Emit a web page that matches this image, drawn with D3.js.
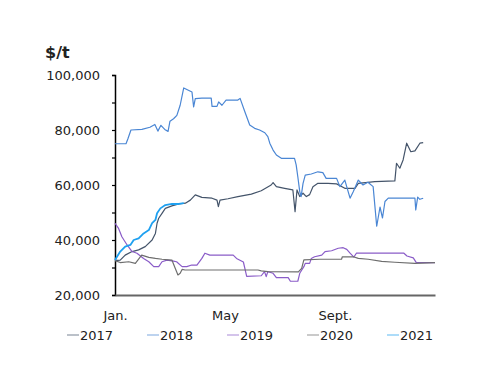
<!DOCTYPE html>
<html>
<head>
<meta charset="utf-8">
<script src="https://cdn.jsdelivr.net/npm/d3@7"></script>
<style>
  html, body { margin: 0; padding: 0; background: #fff; }
  svg { display: block; font-family: "DejaVu Sans", Verdana, sans-serif; }
</style>
</head>
<body>
<div id="chart"></div>
<script>
// x = month of year as a fraction (0 = Jan. 1), y = $/t
const years = ["2017", "2018", "2019", "2020", "2021"];
const colors = ["#44546A", "#4a86d4", "#8a5cc8", "#6e6e6e", "#1ea0f0"];

const s2017 = [[0,32500],[0.19,32700],[0.37,34500],[0.62,35800],[0.86,36400],[1.10,37600],[1.35,40000],[1.47,42400],[1.53,46100],[1.59,47900],[1.71,49700],[1.83,51500],[2.07,52400],[2.32,53100],[2.56,53400],[2.74,54500],[2.92,56400],[3.16,55500],[3.53,55200],[3.71,54500],[3.76,52100],[3.82,54500],[4.11,55000],[4.47,55800],[4.96,56700],[5.32,57900],[5.68,60000],[5.75,60900],[5.87,59400],[6.17,58800],[6.47,58200],[6.55,50300],[6.62,58200],[6.72,55800],[6.84,57000],[6.96,55800],[7.08,56500],[7.20,59400],[7.38,60600],[7.75,60600],[8.06,60400],[8.36,58800],[8.73,58800],[8.85,60600],[9.45,61200],[10.18,61500],[10.24,67900],[10.36,66100],[10.48,69100],[10.61,75200],[10.76,72100],[10.91,72400],[11.09,75200],[11.21,75400]];

const s2018 = [[0,75000],[0.40,75000],[0.47,76800],[0.58,80000],[0.98,80200],[1.27,81000],[1.45,82000],[1.56,79600],[1.67,81700],[1.81,80200],[1.93,79500],[2.00,83200],[2.13,84100],[2.25,85300],[2.37,89000],[2.50,95300],[2.80,93800],[2.86,88400],[2.92,91400],[3.16,91600],[3.50,91600],[3.53,88600],[3.71,88600],[3.77,90200],[3.89,89000],[4.04,90900],[4.47,90900],[4.55,91500],[4.72,86700],[4.90,81800],[5.08,80600],[5.26,80000],[5.45,79000],[5.56,77600],[5.63,75200],[5.75,72700],[5.87,70900],[6.05,69700],[6.53,69700],[6.59,67300],[6.65,63000],[6.72,57600],[6.77,55800],[6.84,60600],[6.92,63600],[7.14,64000],[7.38,64800],[7.56,64500],[7.68,62400],[8.06,62400],[8.18,59400],[8.36,61800],[8.55,55200],[8.67,57600],[8.85,61800],[9.02,60000],[9.20,61000],[9.39,59400],[9.52,45000],[9.64,52000],[9.73,48000],[9.82,54000],[9.94,55200],[10.91,55200],[10.94,50900],[11.01,55600],[11.09,54800],[11.21,55200]];

const s2019 = [[0,46100],[0.13,44200],[0.25,41200],[0.44,38200],[0.62,35800],[0.80,35200],[1.04,33300],[1.23,32100],[1.41,30300],[1.59,30300],[1.71,32100],[1.89,32700],[2.13,32300],[2.24,32100],[2.44,30300],[2.61,30300],[2.79,30900],[2.98,30900],[3.16,33300],[3.27,35200],[3.45,34500],[4.30,34500],[4.42,33300],[4.67,32000],[4.79,26800],[5.32,27000],[5.44,28500],[5.50,26700],[5.56,28500],[5.75,27900],[5.87,26300],[6.30,26300],[6.38,25000],[6.65,25000],[6.72,27900],[6.87,30300],[6.92,31500],[7.08,31500],[7.14,33300],[7.26,33900],[7.52,34500],[7.64,35800],[7.88,36100],[8.12,37000],[8.30,37200],[8.43,36600],[8.55,35200],[8.69,33800],[8.78,35200],[10.51,35200],[10.62,34200],[10.85,33500],[10.96,31800],[11.64,31800]];

const s2020 = [[0,32500],[0.19,31800],[0.50,32100],[0.74,31500],[0.97,34500],[1.23,33700],[1.47,33300],[1.71,33000],[2.07,32700],[2.19,29700],[2.29,27300],[2.37,27900],[2.44,29300],[2.55,29100],[5.20,29100],[5.32,28800],[5.56,28500],[6.67,28400],[6.79,29700],[6.87,32800],[7.45,33000],[8.24,33000],[8.27,33900],[8.67,33900],[8.85,33300],[9.21,33000],[9.70,32200],[10.18,31900],[10.91,31500],[11.64,31800]];

const s2021 = [[0,32700],[0.19,35800],[0.37,37600],[0.56,38200],[0.68,40000],[0.86,40600],[1.04,42400],[1.23,43600],[1.35,46100],[1.47,47300],[1.53,49700],[1.65,51500],[1.83,52700],[2.07,53100],[2.32,53100],[2.50,53400]];

const seriesData = [s2017, s2018, s2019, s2020, s2021];
const yTicks = [20000, 30000, 40000, 50000, 60000, 70000, 80000, 90000, 100000];
const xTicks = [0, 4, 8];
const xTickLabels = ["Jan.", "May", "Sept."];

const width = 500, height = 386;
const margin = { left: 115, right: 65, top: 75, bottom: 91 };

const svg = d3.select("#chart").append("svg")
  .attr("width", width)
  .attr("height", height);

const x = d3.scaleLinear()
  .domain([0, 11.64])
  .range([margin.left, width - margin.right]);

const y = d3.scaleLinear()
  .domain([20000, 100000])
  .range([height - margin.bottom, margin.top]);

// unit label
svg.append("text")
  .attr("x", 45)
  .attr("y", 58)
  .style("font-size", "16px")
  .style("font-weight", "bold")
  .style("fill", "#222")
  .text("$/t");

// y axis: ticks every 10,000, labels every 20,000
const yAxis = svg.append("g")
  .attr("transform", `translate(${margin.left},0)`)
  .call(d3.axisLeft(y)
    .tickValues(yTicks)
    .tickSize(3)
    .tickPadding(12)
    .tickFormat(d => (d % 20000 === 0 ? d3.format(",")(d) : "")));

yAxis.select(".domain").attr("stroke", "#000").attr("stroke-width", 1.5);
yAxis.selectAll(".tick line").attr("stroke", "#000").attr("stroke-width", 1.2);
yAxis.selectAll("text")
  .style("font-size", "13px")
  .style("fill", "#222")
  .style("font-family", "DejaVu Sans, Verdana, sans-serif");

// x axis: labels only
const xAxis = svg.append("g")
  .attr("transform", `translate(0,${height - margin.bottom})`)
  .call(d3.axisBottom(x)
    .tickValues(xTicks)
    .tickSize(0)
    .tickPadding(16)
    .tickFormat((d, i) => xTickLabels[i]));

xAxis.select(".domain").attr("stroke", "#666").attr("stroke-width", 2);
xAxis.selectAll("text")
  .style("font-size", "13px")
  .style("fill", "#222")
  .style("font-family", "DejaVu Sans, Verdana, sans-serif");

// lines
const line = d3.line()
  .x(d => x(d[0]))
  .y(d => y(d[1]));

seriesData.forEach((s, i) => {
  svg.append("path")
    .datum(s)
    .attr("fill", "none")
    .attr("stroke", colors[i])
    .attr("stroke-width", i === 4 ? 1.8 : 1.2)
    .attr("stroke-linejoin", "round")
    .attr("d", line);
});

// legend
const legend = svg.append("g").attr("transform", "translate(67,340)");
years.forEach((yr, i) => {
  const item = legend.append("g").attr("transform", `translate(${i * 80},0)`);
  item.append("line")
    .attr("x1", 0).attr("x2", 12)
    .attr("y1", -5).attr("y2", -5)
    .attr("stroke", colors[i])
    .attr("stroke-opacity", 0.6)
    .attr("stroke-width", 1.2);
  item.append("text")
    .attr("x", 13)
    .attr("y", 0)
    .style("font-size", "13px")
    .style("fill", "#222")
    .text(yr);
});
</script>
</body>
</html>
